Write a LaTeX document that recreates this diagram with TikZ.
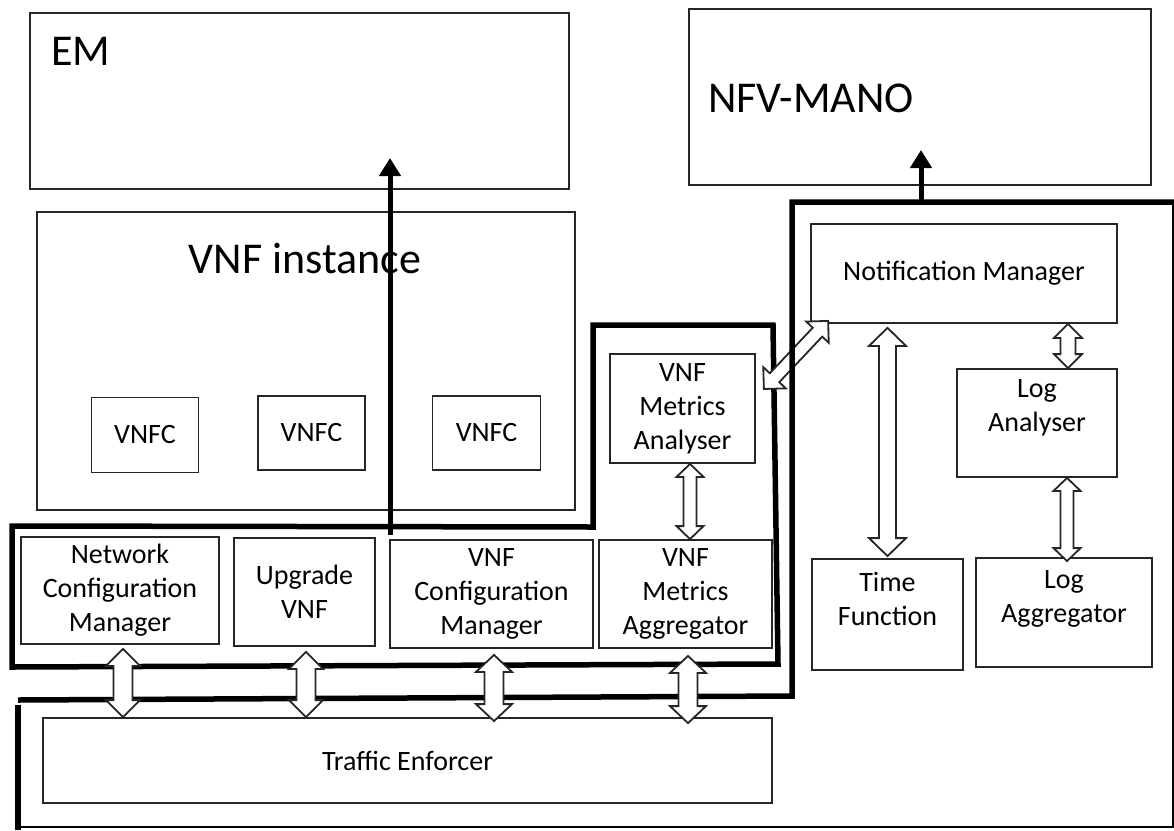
\documentclass[tikz,border=0pt]{standalone}
\usepackage{fontspec}
\setmainfont{Carlito}
\usetikzlibrary{arrows.meta,calc}

\newcommand\lblfnt{\fontsize{28}{34}\selectfont}
\newcommand\headfnt{\fontsize{44}{52}\selectfont}

% hollow double-headed block arrow between two points
% #1,#2 end points, #3 half shaft width, #4 half head width, #5 head length
\newcommand\dblarrow[5]{%
  \path[fat] let \p1=(#1), \p2=(#2), \n1={atan2(\y2-\y1,\x2-\x1)} in
    (\p1) -- ($(\p1)+(\n1:#5)+({\n1+90}:#4)$)
    -- ($(\p1)+(\n1:#5)+({\n1+90}:#3)$)
    -- ($(\p2)+({\n1+180}:#5)+({\n1+90}:#3)$)
    -- ($(\p2)+({\n1+180}:#5)+({\n1+90}:#4)$)
    -- (\p2)
    -- ($(\p2)+({\n1+180}:#5)+({\n1-90}:#4)$)
    -- ($(\p2)+({\n1+180}:#5)+({\n1-90}:#3)$)
    -- ($(\p1)+(\n1:#5)+({\n1-90}:#3)$)
    -- ($(\p1)+(\n1:#5)+({\n1-90}:#4)$)
    -- cycle;}

\begin{document}
\begin{tikzpicture}[x=1pt,y=-1pt,
  box/.style={draw=black!85,line width=1.8pt,fill=white,inner sep=0pt,align=center,font=\lblfnt},
  txt/.style={inner sep=0pt,align=center,font=\lblfnt},
  head/.style={inner sep=0pt,font=\headfnt},
  heavy/.style={line width=5.5pt,line join=miter},
  rim/.style={line width=2.4pt},
  fat/.style={draw=black!85,line width=1.8pt,fill=white,line join=miter},
  uparrow/.style={line width=5pt,-{Triangle[length=18pt,width=21pt]}},
]
\useasboundingbox[fill=white] (0,0) rectangle (1174,830);

% bracket round the lower VNF modules and the metrics analyser
\draw[heavy] (12,667) -- (12,526) -- (593,527) -- (593,325) -- (773,325) -- (778,664) -- cycle;

% upper boxes
\node[box,minimum width=539pt,minimum height=176pt] (em) at (299.5,101) {};
\node[head,anchor=base west] (emlbl) at (51,65) {EM};
\node[box,minimum width=462pt,minimum height=176pt] (mano) at (920,97) {};
\node[head,anchor=base west] (manolbl) at (708,112) {NFV-MANO};

% VNF instance and its components
\node[box,minimum width=538pt,minimum height=298pt] (vnfi) at (306,361) {};
\node[head,anchor=base] (vnfilbl) at (305,273) {VNF instance};
\node[box,minimum width=107pt,minimum height=75pt] (c1) at (145,435) {VNFC};
\node[box,minimum width=107pt,minimum height=74pt] (c2) at (311.5,433) {VNFC};
\node[box,minimum width=108pt,minimum height=74pt] (c3) at (486.5,433) {VNFC};

% module row
\node[box,minimum width=198pt,minimum height=107pt] (ncm) at (120,590.5) {Network\\Configuration\\Manager};
\node[box,minimum width=141pt,minimum height=108pt] (upg) at (304.5,592) {Upgrade\\VNF};
\node[box,minimum width=203pt,minimum height=108pt] (vcm) at (491.5,594) {VNF\\Configuration\\Manager};
\node[box,minimum width=173pt,minimum height=108pt] (vmagg) at (685.5,594) {VNF\\Metrics\\Aggregator};
\node[box,minimum width=729pt,minimum height=85pt] (te) at (407.5,760.5) {Traffic Enforcer};
\node[box,minimum width=145pt,minimum height=109pt] (vman) at (682.5,408.5) {VNF\\Metrics\\Analyser};

% monitoring side
\node[box,minimum width=306pt,minimum height=99pt] (nm) at (964,273.5) {Notification Manager};
\node[box,minimum width=160pt,minimum height=108pt] (lan) at (1037,423) {};
\node[txt,anchor=north] (lanlbl) at (1037,379) {Log\\Analyser};
\node[box,minimum width=151pt,minimum height=111pt] (tf) at (887.5,614.5) {};
\node[txt,anchor=north] (tflbl) at (887.5,572) {Time\\Function};
\node[box,minimum width=176pt,minimum height=109pt] (lagg) at (1064,612.5) {};
\node[txt,anchor=north] (lagglbl) at (1064,570) {Log\\Aggregator};

% analyser to notification manager
\coordinate (dgA) at ([xshift=8pt,yshift=19.5pt]vman.east);
\coordinate (dgB) at ([xshift=18pt,yshift=3pt]nm.south west);
\dblarrow{dgA}{dgB}{6.5pt}{15.5pt}{15.5pt}

% rail above the traffic enforcer and the monitoring enclosure
\draw[heavy] (18,700) -- (792,696) -- (792,202) -- (1174,202);
\draw[heavy] (18,705) -- (18,830);
\draw[rim] (1173,202) -- (1173,827) -- (16,827);

% module <-> traffic enforcer
\coordinate (a1s) at ([xshift=3pt,yshift=-4pt]ncm.south);
\coordinate (a1e) at (a1s |- te.north);
\coordinate (a2s) at ([xshift=1.5pt,yshift=-5pt]upg.south);
\coordinate (a2e) at (a2s |- te.north);
\coordinate (a3s) at ([xshift=2.5pt,yshift=-6pt]vcm.south);
\coordinate (a3t) at (a3s |- te.north);
\coordinate (a3e) at ([yshift=-4pt]a3t);
\coordinate (a4s) at ([xshift=2.5pt,yshift=-7pt]vmagg.south);
\coordinate (a4t) at (a4s |- te.north);
\coordinate (a4e) at ([yshift=-6pt]a4t);
\dblarrow{a1s}{a1e}{9.5pt}{17pt}{17pt}
\dblarrow{a2s}{a2e}{9.5pt}{17pt}{17pt}
\dblarrow{a3s}{a3e}{9.5pt}{18pt}{17pt}
\dblarrow{a4s}{a4e}{9.5pt}{18pt}{17pt}

% metrics analyser <-> aggregator
\coordinate (b1s) at ([xshift=7.5pt]vman.south);
\coordinate (b1e) at (b1s |- vmagg.north);
\dblarrow{b1s}{b1e}{6.5pt}{13.5pt}{13pt}

% notification manager <-> log analyser
\coordinate (b2s) at ([xshift=31pt]lan.north);
\coordinate (b2e) at (b2s |- nm.south);
\dblarrow{b2e}{b2s}{7.5pt}{14pt}{14pt}

% log analyser <-> log aggregator
\coordinate (b3s) at ([xshift=3pt,yshift=-4pt]lagg.north);
\coordinate (b3e) at (b3s |- lan.south);
\dblarrow{b3e}{b3s}{6.5pt}{13.5pt}{13pt}

% notification manager <-> time function
\coordinate (b4t) at (tf.north |- nm.south);
\coordinate (b4a) at ([yshift=-4pt]b4t);
\coordinate (b4b) at ([yshift=2pt]tf.north);
\dblarrow{b4a}{b4b}{8.5pt}{18.5pt}{18pt}

% reports upward
\coordinate (emfoot) at (390,535);
\coordinate (emtip) at (390,158);
\draw[uparrow] (emfoot) -- (emtip);
\coordinate (manofoot) at (921,204);
\coordinate (manotip) at (921,150);
\draw[uparrow] (manofoot) -- (manotip);
\end{tikzpicture}
\end{document}
